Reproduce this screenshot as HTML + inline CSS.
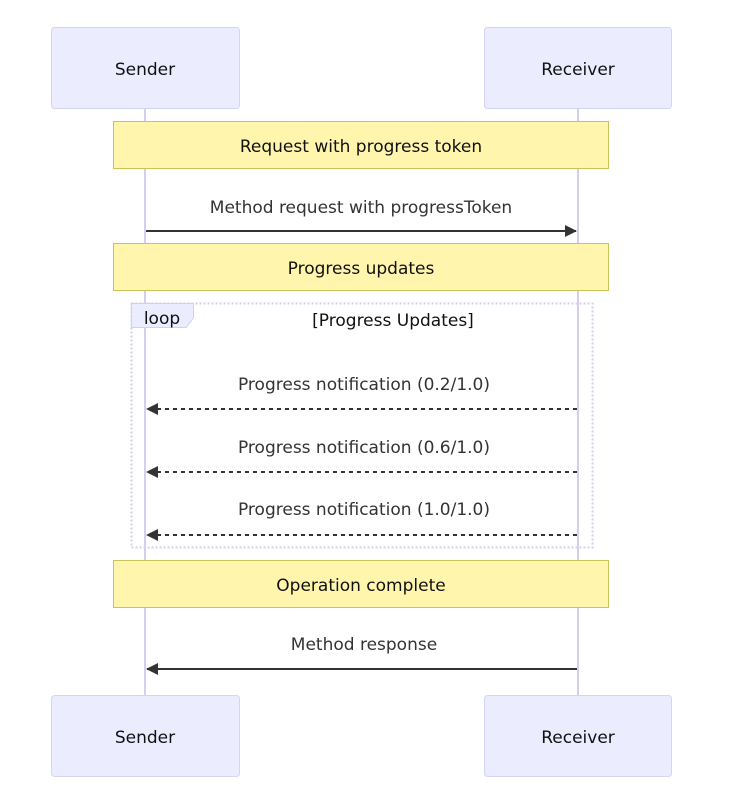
<!DOCTYPE html>
<html><head><style>
html,body{margin:0;padding:0;background:#fff;}
svg{display:block;}
text{font-family:"Trebuchet MS","DejaVu Sans","Liberation Sans",sans-serif;}
</style></head><body>
<svg width="739" height="800" viewBox="0 0 739 800" xmlns="http://www.w3.org/2000/svg">
<defs>
<marker id="ah" markerWidth="12" markerHeight="12" refX="11" refY="6" orient="auto" markerUnits="userSpaceOnUse">
<path d="M0,0 L12,6 L0,12 z" fill="#333"/>
</marker>
</defs>
<!-- lifelines -->
<line x1="145" y1="108" x2="145" y2="695" stroke="#d6cdef" stroke-width="2"/>
<line x1="578" y1="108" x2="578" y2="695" stroke="#d6cdef" stroke-width="2"/>
<!-- actors -->
<g fill="#ececff" stroke="#d6d4f3" stroke-width="1">
<rect x="51.5" y="27.5" width="188" height="81" rx="3"/>
<rect x="484.5" y="27.5" width="187" height="81" rx="3"/>
<rect x="51.5" y="695.5" width="188" height="81" rx="3"/>
<rect x="484.5" y="695.5" width="187" height="81" rx="3"/>
</g>
<g font-size="17" fill="#111" text-anchor="middle">
<text x="145" y="75">Sender</text>
<text x="578" y="75">Receiver</text>
<text x="145" y="743">Sender</text>
<text x="578" y="743">Receiver</text>
</g>
<!-- notes -->
<g fill="#fff5ad" stroke="#c8c35a" stroke-width="1">
<rect x="113.5" y="121.5" width="495" height="47"/>
<rect x="113.5" y="243.5" width="495" height="47"/>
<rect x="113.5" y="560.5" width="495" height="47"/>
</g>
<g font-size="17" fill="#111" text-anchor="middle">
<text x="361" y="152">Request with progress token</text>
<text x="361" y="274">Progress updates</text>
<text x="361" y="591">Operation complete</text>
</g>
<!-- loop -->
<rect x="131.5" y="303.5" width="461" height="244" fill="none" stroke="#d6cdef" stroke-width="2" stroke-dasharray="2,2"/>
<path d="M131.5,303.5 H193.5 V318 L186,327.5 H131.5 z" fill="#ececff" stroke="#d6cdef" stroke-width="1"/>
<text x="162" y="324" font-size="17" fill="#111" text-anchor="middle">loop</text>
<text x="393" y="326" font-size="17" fill="#111" text-anchor="middle">[Progress Updates]</text>
<!-- messages -->
<g font-size="17" fill="#333" text-anchor="middle">
<text x="361" y="213">Method request with progressToken</text>
<text x="364" y="390">Progress notification (0.2/1.0)</text>
<text x="364" y="453">Progress notification (0.6/1.0)</text>
<text x="364" y="515">Progress notification (1.0/1.0)</text>
<text x="364" y="650">Method response</text>
</g>
<g stroke="#333" stroke-width="2" fill="none">
<line x1="146" y1="231" x2="576" y2="231" marker-end="url(#ah)"/>
<line x1="577" y1="409" x2="147" y2="409" stroke-dasharray="4,4" marker-end="url(#ah)"/>
<line x1="577" y1="472" x2="147" y2="472" stroke-dasharray="4,4" marker-end="url(#ah)"/>
<line x1="577" y1="535" x2="147" y2="535" stroke-dasharray="4,4" marker-end="url(#ah)"/>
<line x1="577" y1="669" x2="147" y2="669" marker-end="url(#ah)"/>
</g>
</svg>
</body></html>
